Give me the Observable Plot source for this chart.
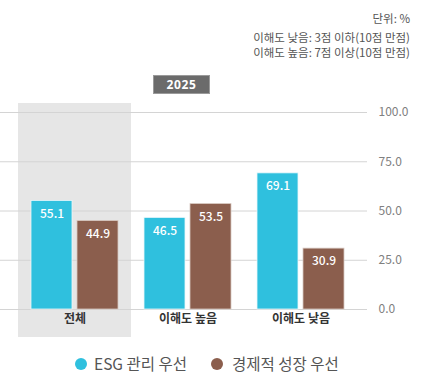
<!DOCTYPE html>
<html><head><meta charset="utf-8">
<script src="https://cdn.jsdelivr.net/npm/d3@7"></script>
<script src="https://cdn.jsdelivr.net/npm/@observablehq/plot@0.6"></script>
<style>
body{margin:0;background:#fff;font-family:"Noto Sans CJK KR","Noto Sans",sans-serif;}
#wrap{position:relative;width:448px;height:392px;overflow:hidden;}
#wrap svg{position:absolute;left:0;top:0;}
.note{position:absolute;right:38px;font-size:11.5px;color:#555;line-height:14px;text-align:right;white-space:nowrap;}
#year{position:absolute;left:153px;top:75px;width:55px;height:17px;background:#6b6b6b;border:1px solid #9a9a9a;color:#fff;font-size:12px;font-weight:bold;letter-spacing:0.6px;text-align:center;line-height:17px;font-family:"Noto Sans",sans-serif;}
.leg{position:absolute;top:353px;font-size:15.5px;color:#555;line-height:20px;white-space:nowrap;}
.dot{position:absolute;top:358px;width:12px;height:12px;border-radius:50%;}
</style></head>
<body><div id="wrap">
<div class="note" style="top:11px">단위: %</div>
<div class="note" style="top:30px">이해도 낮음: 3점 이하(10점 만점)</div>
<div class="note" style="top:45px">이해도 높음: 7점 이상(10점 만점)</div>
<div id="year">2025</div>
<div class="dot" style="left:75px;background:#2fc0de"></div>
<div class="leg" style="left:94px">ESG 관리 우선</div>
<div class="dot" style="left:211px;background:#8b5e4d"></div>
<div class="leg" style="left:232px">경제적 성장 우선</div>
</div>
<script>
const groups = ["전체", "이해도 높음", "이해도 낮음"];
const series = ["ESG 관리 우선", "경제적 성장 우선"];
const esg = [55.1, 46.5, 69.1];
const growth = [44.9, 53.5, 30.9];
const yTicks = [0, 25, 50, 75, 100];
const colors = ["#2fc0de", "#8b5e4d"];
const highlight = ["전체"];

const esgData = groups.map((g, i) => ({group: g, value: esg[i]}));
const growthData = groups.map((g, i) => ({group: g, value: growth[i]}));

const chart = Plot.plot({
  width: 448,
  height: 392,
  marginTop: 103,
  marginBottom: 55,
  marginLeft: 18,
  marginRight: 91,
  style: {fontFamily: '"Noto Sans CJK KR","Noto Sans",sans-serif', background: "transparent"},
  x: {domain: groups, padding: 0, axis: null},
  y: {domain: [0, 100], range: [309, 112], axis: null},
  marks: [
    Plot.cell(highlight, {x: d => d, fill: "#e6e6e6"}),
    Plot.ruleY(yTicks, {stroke: "#d4d4d4", strokeWidth: 1, insetLeft: -18, insetRight: -10}),
    Plot.barY(esgData, {x: "group", y: "value", fill: colors[0], insetLeft: 13, insetRight: 59, stroke: "#e8f7fb", strokeWidth: 0.8}),
    Plot.barY(growthData, {x: "group", y: "value", fill: colors[1], insetLeft: 59, insetRight: 13, stroke: "#d8c8c0", strokeWidth: 0.8}),
    Plot.text(esgData, {x: "group", y: "value", text: d => d.value.toFixed(1), dx: -23, dy: 13, fill: "white", fontSize: 12, fontWeight: 500, letterSpacing: "0.5px"}),
    Plot.text(growthData, {x: "group", y: "value", text: d => d.value.toFixed(1), dx: 23, dy: 13, fill: "white", fontSize: 12, fontWeight: 500, letterSpacing: "0.5px"}),
    Plot.text(groups, {x: d => d, frameAnchor: "bottom", dy: -15, text: d => d, fill: "#333", fontSize: 12, fontWeight: "bold"}),
    Plot.axisY(yTicks, {anchor: "right", tickSize: 0, tickPadding: 21, tickFormat: d3.format(".1f"), label: null, fill: "#808080", fontSize: 12})
  ]
});
document.getElementById("wrap").prepend(chart);
</script>
</body></html>
